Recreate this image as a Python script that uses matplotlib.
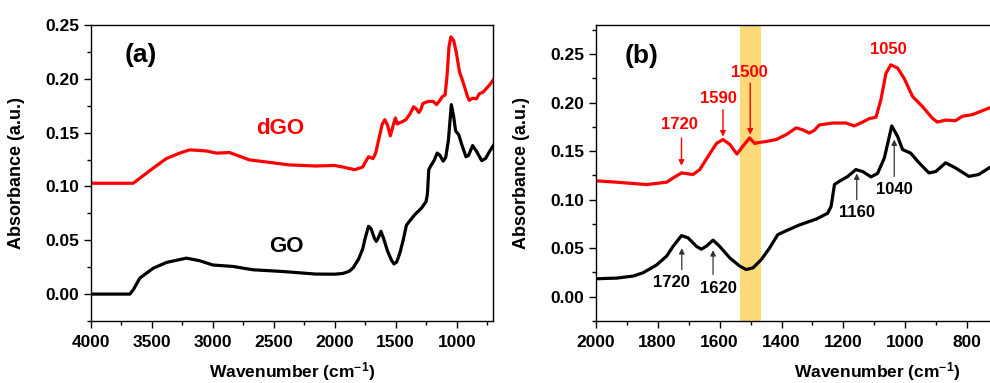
import matplotlib
matplotlib.use("Agg")
import matplotlib.pyplot as plt
from matplotlib.ticker import MultipleLocator, FormatStrFormatter

plt.rcParams['font.family'] = ['Liberation Sans', 'DejaVu Sans']
plt.rcParams['font.weight'] = 'bold'
plt.rcParams['mathtext.fontset'] = 'custom'
plt.rcParams['mathtext.rm'] = 'Liberation Sans:bold'
plt.rcParams['mathtext.bf'] = 'Liberation Sans:bold'
plt.rcParams['mathtext.default'] = 'bf'

# ---- data ----
go_wn = [4000, 3679, 3651, 3597, 3488, 3379, 3216, 3107, 2998, 2835, 2671, 2426, 2154,
         2000, 1932, 1879, 1847, 1804, 1771, 1750, 1723, 1702, 1675, 1659, 1643, 1621,
         1600, 1567, 1535, 1514, 1492, 1465, 1439, 1412, 1385, 1342, 1288, 1251, 1240,
         1229, 1213, 1186, 1160, 1138, 1111, 1090, 1068, 1044, 1025, 1009, 983, 956,
         924, 902, 870, 838, 795, 763, 730, 700]
go_abs = [0.0, 0.0, 0.004, 0.0149, 0.024, 0.0294, 0.0334, 0.031, 0.027, 0.0257, 0.0226,
          0.021, 0.0186,
          0.0185, 0.0192, 0.0213, 0.0247, 0.0326, 0.0418, 0.052, 0.063, 0.0607, 0.052,
          0.049, 0.052, 0.0583, 0.052, 0.040, 0.0316, 0.028, 0.0298, 0.0384, 0.050,
          0.064, 0.068, 0.074, 0.080, 0.086, 0.093, 0.1156, 0.119, 0.124, 0.131, 0.129,
          0.1235, 0.127, 0.143, 0.176, 0.165, 0.1516, 0.148, 0.138, 0.1276, 0.129,
          0.138, 0.1327, 0.124, 0.126, 0.1327, 0.138]

dgo_wn = [4000, 3651, 3597, 3488, 3379, 3270, 3189, 3053, 2971, 2862, 2699, 2508, 2372,
          2154, 2000, 1932, 1836, 1771, 1750, 1723, 1707, 1686, 1664, 1637, 1610, 1589,
          1567, 1544, 1525, 1503, 1487, 1471, 1449, 1417, 1385, 1353, 1331, 1310, 1294,
          1278, 1235, 1192, 1165, 1138, 1117, 1095, 1079, 1063, 1047, 1025, 1004, 977,
          945, 913, 897, 870, 838, 816, 784, 730, 700]
dgo_abs = [0.103, 0.103, 0.1077, 0.117, 0.126, 0.131, 0.134, 0.133, 0.131, 0.1315,
           0.1247, 0.122, 0.120, 0.119, 0.1195, 0.118, 0.1156, 0.118, 0.1224, 0.1276,
           0.1269, 0.1259, 0.131, 0.1447, 0.158, 0.162, 0.157, 0.147, 0.155, 0.1636,
           0.158, 0.159, 0.160, 0.162, 0.167, 0.174, 0.172, 0.1687, 0.1715, 0.177,
           0.179, 0.179, 0.176, 0.180, 0.1835, 0.185, 0.203, 0.230, 0.239, 0.2356,
           0.225, 0.2064, 0.196, 0.184, 0.180, 0.182, 0.1814, 0.186, 0.1876, 0.1944,
           0.199]

band = (1535, 1465)

red_labels = ['1720', '1590', '1500']
red_text_pos = [(1728, 0.177), (1605, 0.2047), (1503, 0.231)]
red_arrow_from = [(1723, 0.1636), (1589, 0.1927), (1501, 0.220)]
red_arrow_to = [(1723, 0.135), (1589, 0.165), (1501, 0.167)]

blk_labels = ['1720', '1620', '1160', '1040']
blk_text_pos = [(1755, 0.0144), (1605, 0.0082), (1156, 0.0864), (1036, 0.111)]
blk_arrow_from = [(1722, 0.028), (1621, 0.023), (1157, 0.100), (1036, 0.124)]
blk_arrow_to = [(1722, 0.050), (1621, 0.048), (1157, 0.127), (1036, 0.162)]

fig = plt.figure(figsize=(9.9, 3.83), dpi=100)
axa = fig.add_axes([90.7 / 990, 1 - 321 / 383, (493.3 - 90.7) / 990, (321 - 25) / 383])
axb = fig.add_axes([595.7 / 990, 1 - 321 / 383, 402.6 / 990, (321 - 25) / 383])

tick_fs = 12.5
lab_fs = 12.5
for ax in (axa, axb):
    ax.tick_params(axis='both', which='both', direction='out', top=False, right=False,
                   labelsize=tick_fs, width=1.0)
    ax.tick_params(which='major', length=5)
    ax.tick_params(which='minor', length=3)
    ax.tick_params(axis='x', which='major', pad=5)
    for s in ax.spines.values():
        s.set_linewidth(1.0)
    ax.set_ylabel('Absorbance (a.u.)', fontsize=13, fontweight='bold')
    ax.set_xlabel(r'Wavenumber (cm$^{-1}$)', fontsize=lab_fs, fontweight='bold')

# Panel (a)
axa.plot(go_wn, go_abs, color='black', lw=2.3)
axa.plot(dgo_wn, dgo_abs, color='#ff0000', lw=2.3)
axa.set_xlim(4000, 700)
axa.set_ylim(-0.025, 0.25)
axa.xaxis.set_major_locator(MultipleLocator(500))
axa.xaxis.set_minor_locator(MultipleLocator(250))
axa.yaxis.set_major_locator(MultipleLocator(0.05))
axa.yaxis.set_minor_locator(MultipleLocator(0.025))
axa.yaxis.set_major_formatter(FormatStrFormatter('%.2f'))
axa.text(0.125, 0.90, '(a)', transform=axa.transAxes, fontsize=19, fontweight='bold',
         ha='center', va='center')
axa.text(2445, 0.1535, 'dGO', color='#ff0000', fontsize=16, fontweight='bold',
         ha='center', va='center')
axa.text(2394, 0.0443, 'GO', color='black', fontsize=16, fontweight='bold',
         ha='center', va='center')
axa.yaxis.set_label_coords(-0.163, 0.5)
axa.xaxis.set_label_coords(0.5, -0.132)

# Panel (b)
axb.axvspan(band[0], band[1], color='#fdd97a', lw=0, zorder=0)
axb.plot(go_wn, go_abs, color='black', lw=2.3)
axb.plot(dgo_wn, dgo_abs, color='#ff0000', lw=2.3)
axb.set_xlim(2000, 700)
axb.set_ylim(-0.025, 0.28)
axb.xaxis.set_major_locator(MultipleLocator(200))
axb.xaxis.set_minor_locator(MultipleLocator(100))
axb.yaxis.set_major_locator(MultipleLocator(0.05))
axb.yaxis.set_minor_locator(MultipleLocator(0.025))
axb.yaxis.set_major_formatter(FormatStrFormatter('%.2f'))
axb.text(0.115, 0.895, '(b)', transform=axb.transAxes, fontsize=19, fontweight='bold',
         ha='center', va='center')
axb.text(1055, 0.2545, '1050', color='#ff0000', fontsize=12, fontweight='bold',
         ha='center', va='center')
for lab, tp, af, at in zip(red_labels, red_text_pos, red_arrow_from, red_arrow_to):
    axb.text(tp[0], tp[1], lab, color='#ff0000', fontsize=12, fontweight='bold',
             ha='center', va='center')
    axb.annotate('', xy=at, xytext=af,
                 arrowprops=dict(arrowstyle='-|>', color='#ff0000', lw=1.0,
                                 mutation_scale=8, shrinkA=0, shrinkB=0))
for lab, tp, af, at in zip(blk_labels, blk_text_pos, blk_arrow_from, blk_arrow_to):
    axb.text(tp[0], tp[1], lab, color='black', fontsize=12, fontweight='bold',
             ha='center', va='center')
    axb.annotate('', xy=at, xytext=af,
                 arrowprops=dict(arrowstyle='-|>', color='#333333', lw=0.9,
                                 mutation_scale=8, shrinkA=0, shrinkB=0))
axb.yaxis.set_label_coords(-0.163, 0.5)
axb.xaxis.set_label_coords((877 - 595.7) / 402.6, -0.132)

fig.savefig('out.png', dpi=100)
